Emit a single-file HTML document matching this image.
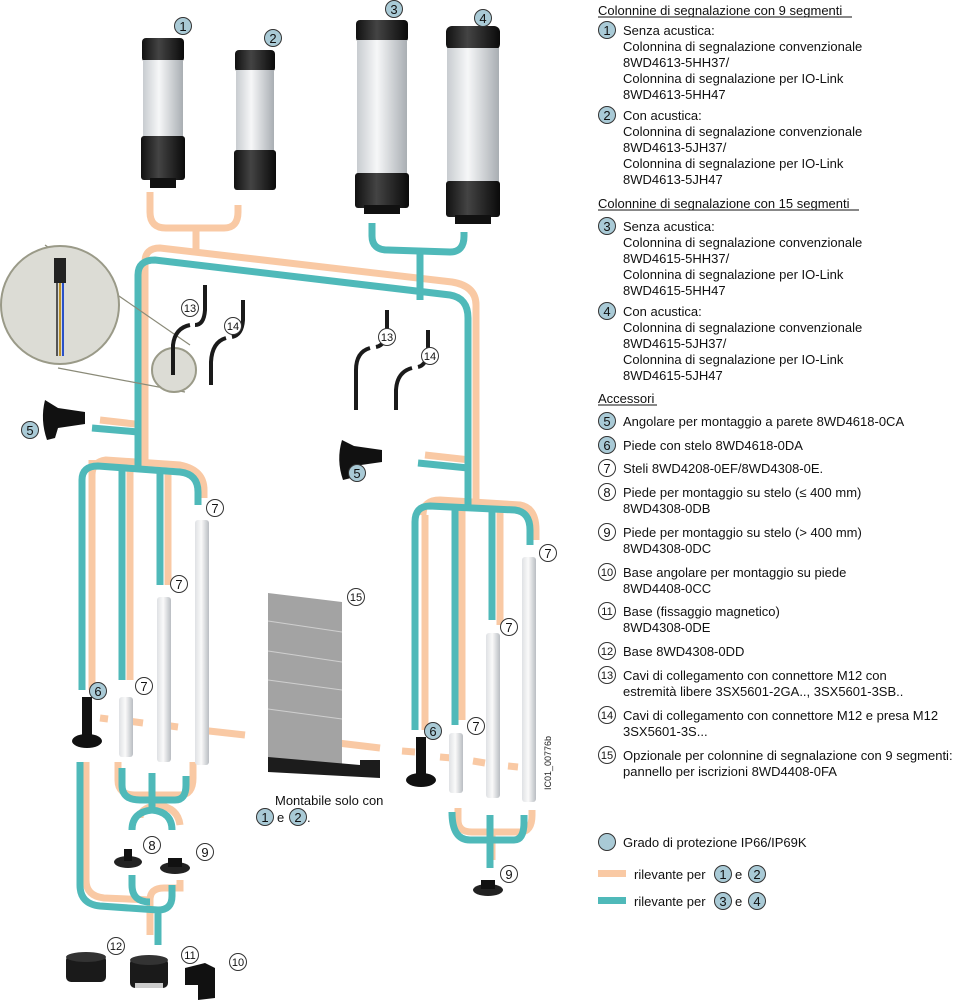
<!DOCTYPE html>
<html><head><meta charset="utf-8"><style>
html,body{margin:0;padding:0;background:#fff;}
svg{display:block;font-family:"Liberation Sans",sans-serif;}
</style></head><body>
<svg width="968" height="1000" viewBox="0 0 968 1000" xmlns="http://www.w3.org/2000/svg">
<defs>
<linearGradient id="gl" x1="0" x2="1"><stop offset="0" stop-color="#c8ccd0"/><stop offset=".4" stop-color="#f6f7f8"/><stop offset="1" stop-color="#a9aeb3"/></linearGradient>
<linearGradient id="gb" x1="0" x2="1"><stop offset="0" stop-color="#111"/><stop offset=".4" stop-color="#444"/><stop offset="1" stop-color="#0a0a0a"/></linearGradient>
<linearGradient id="gw" x1="0" x2="1"><stop offset="0" stop-color="#dfe1e4"/><stop offset=".45" stop-color="#fafafa"/><stop offset="1" stop-color="#b9bdc2"/></linearGradient>
</defs>
<g fill="none" stroke-width="7" stroke-linecap="butt">
<!-- peach lines -->
<g stroke="#f9c9a4">
<path d="M150 192 V212 Q150 228 166 228 H224 Q238 228 238 212 V205"/>
<path d="M196 228 V252"/>
<path d="M145 470 V262 Q145 248 160 248 L452 282 Q476 286 476 305 V500"/>
<path d="M92 460 V475 Q92 462 106 460 L180 465 Q204 470 204 490"/>
<path d="M92 470 V690 M130 470 V680 M168 470 V585 M204 490 V498"/>
<path d="M100 420 L135 424"/>
<path d="M425 455 L470 460"/>
<path d="M423 515 Q423 500 440 500 L520 505 Q536 508 536 530 V540"/>
<path d="M425 515 V730 M462 505 V720 M500 505 V625"/>
<path d="M86 762 V880 Q86 896 104 898 L150 900 V935 M150 900 Q150 888 164 888 L180 888 V880"/>
<path d="M118 762 V780 Q118 795 135 795 L180 795 Q193 795 193 778 V762"/>
<path d="M158 795 V805 Q140 808 140 818 M158 805 Q178 808 180 825"/>
<path d="M458 808 V820 Q458 832 472 832 L520 832 Q532 832 532 815 V810 M492 832 V860"/>
<path d="M100 718 L108 719 M128 721 L143 723 M163 725 L178 727 M200 730 L245 735"/>
<path d="M338 743 L380 748 M402 751 L415 752 M440 757 L452 758 M473 761 L485 763 M508 766 L518 767"/>
</g>
<!-- teal lines -->
<g stroke="#4fb9b9">
<path d="M372 223 V236 Q372 250 388 250 L450 252 Q464 252 464 236 V232"/>
<path d="M420 250 V300"/>
<path d="M138 470 V275 Q138 260 155 260 L450 295 Q468 298 468 318 V505"/>
<path d="M82 690 V480 Q82 466 98 466 L180 472 Q198 474 198 492 V505"/>
<path d="M122 468 V680 M160 468 V585"/>
<path d="M92 428 L138 432"/>
<path d="M418 463 L468 468"/>
<path d="M415 730 V522 Q415 506 430 506 L515 510 Q530 512 530 530 V545"/>
<path d="M455 508 V725 M492 510 V620"/>
<path d="M80 762 V885 Q80 904 100 906 L158 910 Q172 910 172 896 V885 M158 910 V945"/>
<path d="M122 768 V785 Q122 800 140 800 L175 800 Q186 800 186 785 V776"/>
<path d="M152 773 V810 Q132 812 132 830 M152 810 Q172 812 172 830"/>
<path d="M132 875 V885 Q132 902 150 902"/>
<path d="M452 812 Q452 840 470 840 L514 840 Q524 840 524 822 V815 M490 815 V868"/>
</g>
</g>
<!-- columns -->
<g>
<rect x="142" y="38" width="42" height="24" rx="4" fill="url(#gb)"/>
<rect x="143" y="60" width="40" height="78" fill="url(#gl)"/>
<rect x="141" y="136" width="44" height="44" rx="3" fill="url(#gb)"/>
<rect x="150" y="178" width="26" height="10" fill="#111"/>
<rect x="235" y="50" width="40" height="22" rx="4" fill="url(#gb)"/>
<rect x="236" y="70" width="38" height="82" fill="url(#gl)"/>
<rect x="234" y="150" width="42" height="40" rx="3" fill="url(#gb)"/>
<rect x="356" y="20" width="52" height="22" rx="4" fill="url(#gb)"/>
<rect x="357" y="40" width="50" height="135" fill="url(#gl)"/>
<rect x="355" y="173" width="54" height="35" rx="3" fill="url(#gb)"/>
<rect x="364" y="205" width="36" height="9" fill="#111"/>
<rect x="446" y="26" width="54" height="24" rx="6" fill="url(#gb)"/>
<rect x="447" y="48" width="52" height="135" fill="url(#gl)"/>
<rect x="446" y="181" width="54" height="36" rx="3" fill="url(#gb)"/>
<rect x="455" y="215" width="36" height="9" fill="#111"/>
</g>
<!-- zoom circle -->
<line x1="45" y1="245" x2="190" y2="345" stroke="#8a8a78" stroke-width="1.2"/>
<line x1="58" y1="368" x2="185" y2="392" stroke="#8a8a78" stroke-width="1.2"/>
<circle cx="60" cy="305" r="59" fill="#dcdcd5" stroke="#9a9a88" stroke-width="2"/>
<circle cx="174" cy="370" r="22" fill="#dcdcd5" stroke="#9a9a88" stroke-width="2"/>
<rect x="54" y="258" width="12" height="25" fill="#222"/>
<line x1="57" y1="283" x2="57" y2="356" stroke="#555" stroke-width="2"/>
<line x1="60" y1="283" x2="60" y2="356" stroke="#b8902a" stroke-width="2"/>
<line x1="63" y1="283" x2="63" y2="356" stroke="#2a50c8" stroke-width="2"/>
<!-- cables -->
<g fill="none" stroke="#1a1a1a" stroke-width="4">
<path d="M205 285 V310 Q204 325 195 325 M190 325 Q175 328 173 345 V375"/>
<path d="M243 300 V320 Q242 335 232 337 M226 338 Q212 342 211 362 V385"/>
<path d="M387 310 V330 Q386 345 376 347 M370 348 Q356 352 356 370 V410"/>
<path d="M428 330 V350 Q427 365 418 367 M412 368 Q397 372 396 390 V410"/>
</g>
<!-- brackets 5 -->
<path d="M45 400 Q40 420 47 440 L55 438 L58 428 L85 424 L85 412 L58 408 Z" fill="#111"/>
<path d="M342 440 Q336 460 343 480 L351 478 L354 466 L382 462 L382 450 L354 446 Z" fill="#111"/>
<!-- rods -->
<rect x="195" y="520" width="14" height="245" rx="3" fill="url(#gw)"/>
<rect x="157" y="597" width="14" height="165" rx="3" fill="url(#gw)"/>
<rect x="119" y="697" width="14" height="60" rx="3" fill="url(#gw)"/>
<rect x="522" y="557" width="14" height="245" rx="3" fill="url(#gw)"/>
<rect x="486" y="633" width="14" height="165" rx="3" fill="url(#gw)"/>
<rect x="449" y="733" width="14" height="60" rx="3" fill="url(#gw)"/>
<!-- feet 6 -->
<rect x="82" y="697" width="10" height="40" fill="#111"/><ellipse cx="87" cy="741" rx="15" ry="7" fill="#111"/>
<rect x="416" y="737" width="10" height="40" fill="#111"/><ellipse cx="421" cy="780" rx="15" ry="7" fill="#111"/>
<!-- 8,9 -->
<ellipse cx="128" cy="862" rx="14" ry="6" fill="#222"/><rect x="124" y="849" width="8" height="12" fill="#111"/>
<ellipse cx="175" cy="868" rx="15" ry="6" fill="#222"/><rect x="168" y="858" width="14" height="9" fill="#111"/>
<ellipse cx="488" cy="890" rx="15" ry="6" fill="#222"/><rect x="481" y="880" width="14" height="9" fill="#111"/>
<!-- 12,11,10 -->
<rect x="66" y="955" width="40" height="27" rx="5" fill="#1a1a1a"/><ellipse cx="86" cy="957" rx="20" ry="5" fill="#333"/>
<rect x="130" y="958" width="38" height="30" rx="5" fill="#1a1a1a"/><ellipse cx="149" cy="960" rx="19" ry="5" fill="#333"/><rect x="135" y="983" width="28" height="5" fill="#ccc"/>
<path d="M185 968 L205 963 L215 968 V998 L198 1000 V985 L185 985 Z" fill="#111"/>
<!-- panel 15 -->
<path d="M268 593 L342 602 V770 L268 770 Z" fill="#a3a3a3"/>
<g stroke="#cfcfcf" stroke-width="1"><line x1="268" y1="621" x2="342" y2="632"/><line x1="268" y1="651" x2="342" y2="662"/><line x1="268" y1="680" x2="342" y2="690"/><line x1="268" y1="709" x2="342" y2="719"/></g>
<path d="M268 757 L360 765 V760 L380 760 V778 L268 772 Z" fill="#1c1c1c"/>
<text x="0" y="0" font-size="9" transform="translate(551,790) rotate(-90)" fill="#222">IC01_00776b</text>
<!-- labels -->
<g font-size="13" fill="#111" text-anchor="middle">
<g fill="#a9cad6" stroke="#333" stroke-width="1">
<circle cx="183" cy="26" r="8.5"/><circle cx="273" cy="38" r="8.5"/><circle cx="394" cy="9" r="8.5"/><circle cx="483" cy="18" r="8.5"/>
<circle cx="30" cy="430" r="8.5"/><circle cx="357" cy="473" r="8.5"/><circle cx="98" cy="691" r="8.5"/><circle cx="433" cy="731" r="8.5"/>
<circle cx="265" cy="817" r="8.5"/><circle cx="298" cy="817" r="8.5"/>
</g>
<g fill="#fff" stroke="#333" stroke-width="1">
<circle cx="190" cy="308" r="8.5"/><circle cx="233" cy="326" r="8.5"/><circle cx="387" cy="337" r="8.5"/><circle cx="430" cy="356" r="8.5"/>
<circle cx="215" cy="508" r="8.5"/><circle cx="179" cy="584" r="8.5"/><circle cx="144" cy="686" r="8.5"/>
<circle cx="548" cy="553" r="8.5"/><circle cx="509" cy="627" r="8.5"/><circle cx="476" cy="726" r="8.5"/>
<circle cx="356" cy="597" r="8.5"/><circle cx="152" cy="845" r="8.5"/><circle cx="205" cy="852" r="8.5"/><circle cx="509" cy="874" r="8.5"/>
<circle cx="116" cy="946" r="8.5"/><circle cx="190" cy="955" r="8.5"/><circle cx="238" cy="962" r="8.5"/>
</g>
<text x="183" y="31">1</text><text x="273" y="43">2</text><text x="394" y="14">3</text><text x="483" y="23">4</text>
<text x="30" y="435">5</text><text x="357" y="478">5</text><text x="98" y="696">6</text><text x="433" y="736">6</text>
<text x="265" y="822">1</text><text x="298" y="822">2</text>
<g font-size="11"><text x="190" y="312">13</text><text x="233" y="330">14</text><text x="387" y="341">13</text><text x="430" y="360">14</text>
<text x="356" y="601">15</text><text x="116" y="950">12</text><text x="190" y="959">11</text><text x="238" y="966">10</text></g>
<text x="215" y="513">7</text><text x="179" y="589">7</text><text x="144" y="691">7</text><text x="548" y="558">7</text><text x="509" y="632">7</text><text x="476" y="731">7</text>
<text x="152" y="850">8</text><text x="205" y="857">9</text><text x="509" y="879">9</text>
</g>
<text x="275" y="805" font-size="13" fill="#111">Montabile solo con</text>
<text x="277" y="822" font-size="13" fill="#111">e</text><text x="307" y="822" font-size="13" fill="#111">.</text>
<!-- right text -->
<g font-size="13" fill="#111">
<text x="598" y="15">Colonnine di segnalazione con 9 segmenti</text>
<line x1="598" y1="17" x2="852" y2="17" stroke="#111" stroke-width="1"/>
<text x="623" y="35">Senza acustica:</text>
<text x="623" y="51">Colonnina di segnalazione convenzionale</text>
<text x="623" y="67">8WD4613-5HH37/</text>
<text x="623" y="83">Colonnina di segnalazione per IO-Link</text>
<text x="623" y="99">8WD4613-5HH47</text>
<text x="623" y="120">Con acustica:</text>
<text x="623" y="136">Colonnina di segnalazione convenzionale</text>
<text x="623" y="152">8WD4613-5JH37/</text>
<text x="623" y="168">Colonnina di segnalazione per IO-Link</text>
<text x="623" y="184">8WD4613-5JH47</text>
<text x="598" y="208">Colonnine di segnalazione con 15 segmenti</text>
<line x1="598" y1="210" x2="859" y2="210" stroke="#111" stroke-width="1"/>
<text x="623" y="231">Senza acustica:</text>
<text x="623" y="247">Colonnina di segnalazione convenzionale</text>
<text x="623" y="263">8WD4615-5HH37/</text>
<text x="623" y="279">Colonnina di segnalazione per IO-Link</text>
<text x="623" y="295">8WD4615-5HH47</text>
<text x="623" y="316">Con acustica:</text>
<text x="623" y="332">Colonnina di segnalazione convenzionale</text>
<text x="623" y="348">8WD4615-5JH37/</text>
<text x="623" y="364">Colonnina di segnalazione per IO-Link</text>
<text x="623" y="380">8WD4615-5JH47</text>
<text x="598" y="403">Accessori</text>
<line x1="598" y1="405" x2="657" y2="405" stroke="#111" stroke-width="1"/>
<text x="623" y="426">Angolare per montaggio a parete 8WD4618-0CA</text>
<text x="623" y="450">Piede con stelo 8WD4618-0DA</text>
<text x="623" y="473">Steli 8WD4208-0EF/8WD4308-0E.</text>
<text x="623" y="497">Piede per montaggio su stelo (≤ 400 mm)</text>
<text x="623" y="513">8WD4308-0DB</text>
<text x="623" y="537">Piede per montaggio su stelo (&gt; 400 mm)</text>
<text x="623" y="553">8WD4308-0DC</text>
<text x="623" y="577">Base angolare per montaggio su piede</text>
<text x="623" y="593">8WD4408-0CC</text>
<text x="623" y="616">Base (fissaggio magnetico)</text>
<text x="623" y="632">8WD4308-0DE</text>
<text x="623" y="656">Base 8WD4308-0DD</text>
<text x="623" y="680">Cavi di collegamento con connettore M12 con</text>
<text x="623" y="696">estremità libere 3SX5601-2GA.., 3SX5601-3SB..</text>
<text x="623" y="720">Cavi di collegamento con connettore M12 e presa M12</text>
<text x="623" y="736">3SX5601-3S...</text>
<text x="623" y="760">Opzionale per colonnine di segnalazione con 9 segmenti:</text>
<text x="623" y="776">pannello per iscrizioni 8WD4408-0FA</text>
<text x="623" y="847">Grado di protezione IP66/IP69K</text>
<text x="634" y="879">rilevante per</text><text x="735" y="879">e</text>
<text x="634" y="906">rilevante per</text><text x="735" y="906">e</text>
</g>
<g stroke="#333" stroke-width="1">
<g fill="#a9cad6"><circle cx="607" cy="30" r="8.5"/><circle cx="607" cy="115" r="8.5"/><circle cx="607" cy="226" r="8.5"/><circle cx="607" cy="311" r="8.5"/>
<circle cx="607" cy="421" r="8.5"/><circle cx="607" cy="445" r="8.5"/><circle cx="607" cy="842" r="8.5"/>
<circle cx="723" cy="874" r="8.5"/><circle cx="757" cy="874" r="8.5"/><circle cx="723" cy="901" r="8.5"/><circle cx="757" cy="901" r="8.5"/></g>
<g fill="#fff"><circle cx="607" cy="468" r="8.5"/><circle cx="607" cy="492" r="8.5"/><circle cx="607" cy="532" r="8.5"/><circle cx="607" cy="572" r="8.5"/>
<circle cx="607" cy="611" r="8.5"/><circle cx="607" cy="651" r="8.5"/><circle cx="607" cy="675" r="8.5"/><circle cx="607" cy="715" r="8.5"/><circle cx="607" cy="755" r="8.5"/></g>
</g>
<g font-size="13" fill="#111" text-anchor="middle">
<text x="607" y="35">1</text><text x="607" y="120">2</text><text x="607" y="231">3</text><text x="607" y="316">4</text>
<text x="607" y="426">5</text><text x="607" y="450">6</text><text x="607" y="473">7</text><text x="607" y="497">8</text><text x="607" y="537">9</text>
<g font-size="11"><text x="607" y="576">10</text><text x="607" y="615">11</text><text x="607" y="655">12</text><text x="607" y="679">13</text><text x="607" y="719">14</text><text x="607" y="759">15</text></g>
<text x="723" y="879">1</text><text x="757" y="879">2</text><text x="723" y="906">3</text><text x="757" y="906">4</text>
</g>
<rect x="598" y="870" width="28" height="7" fill="#f9c9a4"/>
<rect x="598" y="897" width="28" height="7" fill="#4fb9b9"/>
</svg>
</body></html>
